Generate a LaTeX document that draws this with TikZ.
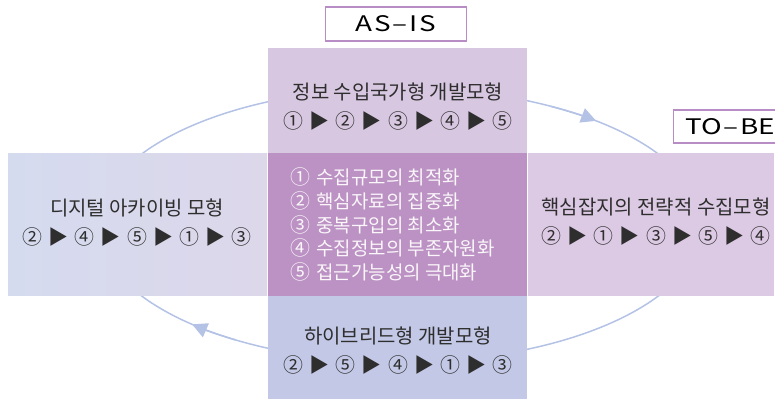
\documentclass[tikz,border=0pt]{standalone}
\usepackage{fontspec}
\setmainfont{Noto Sans CJK KR}
\usetikzlibrary{arrows.meta,calc}
\definecolor{txt}{HTML}{2E2E2E}
\definecolor{topc}{HTML}{D8C7E1}
\definecolor{rightc}{HTML}{DCC9E3}
\definecolor{centc}{HTML}{BB92C3}
\definecolor{botc}{HTML}{C3C8E6}
\definecolor{leftA}{HTML}{D5DBEF}
\definecolor{leftB}{HTML}{DDD7EA}
\definecolor{ring}{HTML}{B3C2E5}
\definecolor{tagc}{HTML}{B88DC6}
\newcommand\cn[1]{{\fontsize{20}{29}\selectfont #1}}
\newcommand\tri{\hspace{6.3bp}▶\hspace{6.3bp}}
\newcommand\lcn[1]{{\fontsize{20}{23.7}\selectfont #1}\hspace{2bp}}
\newcommand\boxfont{\fontsize{20}{29}\selectfont}
\newcommand\listfont{\fontsize{19}{23.7}\selectfont}
\tikzset{
  boxtext/.style={font=\boxfont, text=txt, align=center, inner sep=0pt},
  listtext/.style={font=\listfont, text=white!92!centc, align=left, inner sep=0pt, anchor=west},
  tagbox/.style={draw=tagc, line width=1.2bp, fill=white},
  tagtext/.style={font=\fontsize{21.5}{24}\selectfont, text=black, inner sep=0pt},
  ringline/.style={draw=ring, line width=1.5bp},
  ringtip/.style={draw=ring, line width=1.5bp, -{Triangle[length=15bp,width=15bp,fill=ring]}}
}
\begin{document}
\begin{tikzpicture}[x=1bp,y=1bp]
\useasboundingbox (0,0) rectangle (775,400);
\coordinate (c) at (400,175);
% ring
\draw[ringline] (c) ellipse [x radius=302, y radius=137];
\draw[ringtip] ($(c)+(60:302 and 137)$) arc[start angle=60, end angle=49.5, x radius=302, y radius=137];
\draw[ringtip] ($(c)+(237:302 and 137)$) arc[start angle=237, end angle=226.5, x radius=302, y radius=137];
% boxes
\node[fill=topc, minimum width=260, minimum height=105, inner sep=0pt, anchor=south west] (top) at (268,247) {};
\node[left color=leftA, right color=leftB, minimum width=260, minimum height=143, inner sep=0pt, anchor=south west] (left) at (8,104) {};
\node[fill=rightc, minimum width=247, minimum height=143, inner sep=0pt, anchor=south west] (right) at (528,104) {};
\node[fill=botc, minimum width=260, minimum height=103, inner sep=0pt, anchor=south west] (bot) at (268,1) {};
\node[fill=centc, minimum width=260, minimum height=143, inner sep=0pt, anchor=south west] (cent) at (268,104) {};
% tags
\node[tagbox, minimum width=142, minimum height=34, inner sep=0pt] (asis) at (396,376) {};
\node[tagtext] at (asis) {\scalebox{1.3}[1]{A\kern1bp S\kern1.5bp –\kern1.5bp I\kern1.5bp S}};
\begin{scope}
\clip (0,0) rectangle (775,400);
\node[tagbox, minimum width=110, minimum height=33, inner sep=0pt, anchor=west] (tobe) at (673,273.5) {};
\end{scope}
\node[tagtext, anchor=west] at (685,273.5) {\scalebox{1.3}[1]{TO\kern1.5bp –\kern1.5bp BE}};
% texts
\node[boxtext] (toptxt) at (398,293) {정보 수입국가형 개발모형\\\cn{①}\tri\cn{②}\tri\cn{③}\tri\cn{④}\tri\cn{⑤}};
\node[boxtext] (lefttxt) at (137,177) {디지털 아카이빙 모형\\\cn{②}\tri\cn{④}\tri\cn{⑤}\tri\cn{①}\tri\cn{③}};
\node[boxtext] (righttxt) at (656,178) {핵심잡지의 전략적 수집모형\\\cn{②}\tri\cn{①}\tri\cn{③}\tri\cn{⑤}\tri\cn{④}};
\node[boxtext] (bottxt) at (398,49) {하이브리드형 개발모형\\\cn{②}\tri\cn{⑤}\tri\cn{④}\tri\cn{①}\tri\cn{③}};
\node[listtext] (list) at (290,175.5) {\lcn{①} 수집규모의 최적화\\\lcn{②} 핵심자료의 집중화\\\lcn{③} 중복구입의 최소화\\\lcn{④} 수집정보의 부존자원화\\\lcn{⑤} 접근가능성의 극대화};
\end{tikzpicture}
\end{document}
